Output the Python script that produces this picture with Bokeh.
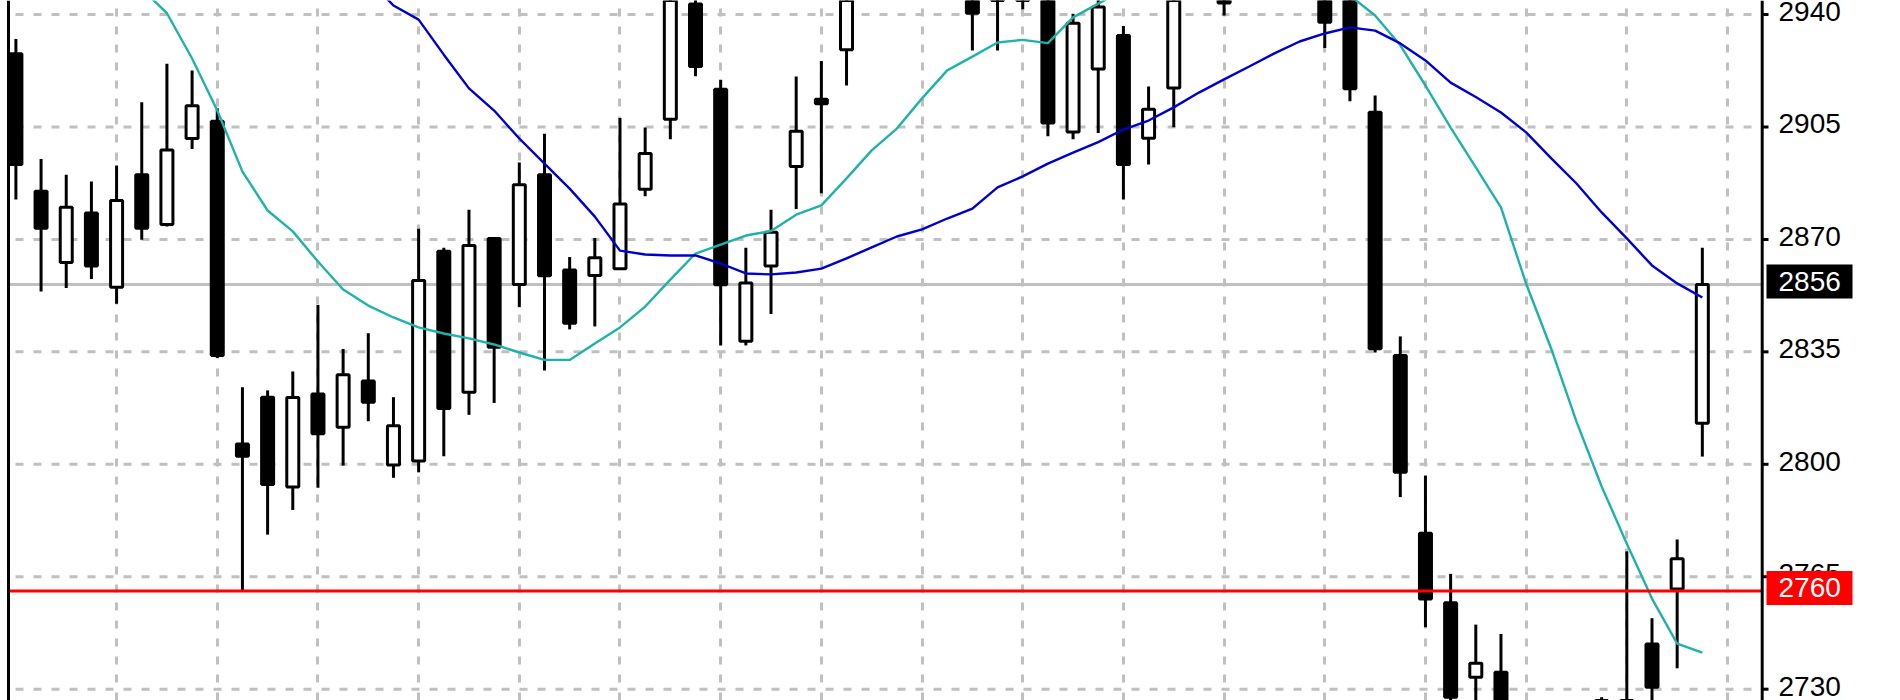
from bokeh.plotting import figure
from bokeh.models import FixedTicker, Span, ColumnDataSource, Range1d, CDSView, BooleanFilter
from bokeh.embed import file_html
from bokeh.resources import INLINE
from bokeh.core.properties import value

# ---- data ----
opens = [2927.8, 2885.0, 2862.8, 2878.2, 2855.1, 2890.1, 2874.6, 2901.4, 2906.8, 2806.3,
         2820.9, 2792.9, 2821.9, 2811.5, 2825.9, 2799.8, 2801.0, 2866.3, 2822.4, 2870.3,
         2856.0, 2890.1, 2860.5, 2858.8, 2860.9, 2885.6, 2907.4, 2943.3, 2916.7, 2838.3,
         2861.7, 2892.7, 2913.6, 2929.0, 2946.0, 2958.0, 2955.0, 2966.0, 2954.0, 2952.0,
         2947.0, 2948.0, 2903.4, 2923.0, 2933.5, 2901.5, 2917.1, 2952.0, 2965.0, 2945.0,
         2958.0, 2965.0, 2952.0, 2946.0, 2909.6, 2833.9, 2778.5, 2756.9, 2733.7, 2735.3,
         2712.0, 2705.0, 2698.0, 2710.0, 2708.0, 2744.1, 2761.2, 2812.8]
highs = [2932.4, 2895.0, 2890.1, 2888.0, 2893.0, 2912.7, 2924.7, 2922.6, 2910.8, 2824.0,
         2823.0, 2828.9, 2849.6, 2835.9, 2840.8, 2820.9, 2873.3, 2867.4, 2879.2, 2870.6,
         2893.9, 2902.9, 2864.5, 2870.4, 2907.8, 2904.8, 2952.0, 2947.5, 2919.7, 2867.4,
         2879.2, 2920.7, 2925.5, 2950.0, 2962.0, 2968.0, 2970.0, 2972.0, 2958.0, 2958.0,
         2960.0, 2952.0, 2940.2, 2948.0, 2936.4, 2917.6, 2958.0, 2975.0, 2972.0, 2962.0,
         2970.0, 2968.0, 2958.0, 2950.0, 2914.8, 2839.8, 2796.5, 2765.9, 2750.1, 2747.2,
         2724.0, 2720.0, 2716.0, 2727.5, 2772.9, 2752.1, 2776.6, 2867.4]
lows = [2882.4, 2853.8, 2854.9, 2857.7, 2850.0, 2869.9, 2874.0, 2898.1, 2833.1, 2760.5,
        2778.1, 2785.8, 2792.7, 2799.6, 2813.4, 2795.8, 2797.5, 2802.5, 2815.4, 2819.1,
        2848.9, 2829.2, 2842.0, 2842.9, 2860.5, 2883.4, 2901.2, 2920.8, 2837.0, 2837.0,
        2846.8, 2879.5, 2884.4, 2917.9, 2945.0, 2950.0, 2951.0, 2950.0, 2928.8, 2928.8,
        2941.6, 2902.1, 2901.2, 2903.1, 2882.4, 2893.3, 2904.9, 2946.0, 2939.7, 2945.0,
        2950.0, 2948.0, 2929.6, 2913.0, 2834.8, 2789.8, 2749.3, 2720.0, 2718.0, 2705.0,
        2695.0, 2688.0, 2685.0, 2700.0, 2702.0, 2725.0, 2736.5, 2802.4]
closes = [2893.3, 2873.5, 2880.0, 2861.7, 2882.1, 2873.5, 2897.8, 2911.6, 2833.9, 2802.5,
          2793.7, 2820.8, 2809.5, 2827.9, 2819.3, 2812.0, 2857.2, 2817.4, 2868.1, 2836.4,
          2887.0, 2858.7, 2843.9, 2864.3, 2881.0, 2896.7, 2948.0, 2923.8, 2855.9, 2856.4,
          2872.2, 2903.7, 2912.2, 2946.0, 2958.0, 2955.0, 2966.0, 2954.0, 2940.4, 2946.0,
          2958.0, 2906.2, 2937.3, 2942.3, 2893.3, 2910.5, 2952.0, 2970.0, 2943.6, 2958.0,
          2965.0, 2952.0, 2937.6, 2916.9, 2836.0, 2797.5, 2758.1, 2727.5, 2738.1, 2712.0,
          2705.0, 2698.0, 2710.0, 2718.0, 2724.0, 2730.6, 2770.6, 2856.0]
ma_fast = [2985.0, 2978.0, 2970.0, 2962.0, 2955.0, 2948.0, 2940.4, 2926.3, 2910.1, 2891.1,
           2879.0, 2872.5, 2863.1, 2854.4, 2849.4, 2845.7, 2842.6, 2840.7, 2839.2, 2837.3,
           2834.8, 2832.5, 2832.5, 2837.6, 2842.6, 2849.1, 2857.5, 2865.6, 2868.4, 2871.2,
           2872.6, 2877.7, 2880.6, 2889.0, 2897.7, 2904.5, 2913.9, 2922.6, 2926.9, 2931.3,
           2932.1, 2931.1, 2939.1, 2943.4, 2947.5, 2950.0, 2953.0, 2955.0, 2956.0, 2957.0,
           2956.0, 2954.0, 2951.0, 2945.9, 2939.7, 2930.4, 2917.9, 2904.8, 2892.4, 2880.0,
           2856.2, 2835.9, 2813.3, 2793.1, 2775.3, 2758.2, 2744.2, 2741.4]
ma_slow = [2974.0, 2975.0, 2976.0, 2977.0, 2978.0, 2979.0, 2979.0, 2979.0, 2978.0, 2976.0,
           2973.0, 2969.0, 2964.0, 2958.0, 2951.0, 2942.8, 2938.4, 2927.5, 2917.0, 2910.1,
           2901.4, 2893.6, 2885.8, 2877.1, 2866.5, 2865.3, 2865.0, 2865.0, 2862.5, 2859.4,
           2859.1, 2859.7, 2860.9, 2864.1, 2867.5, 2870.9, 2873.1, 2876.5, 2879.6, 2886.2,
           2889.6, 2893.6, 2897.0, 2900.3, 2904.2, 2907.0, 2911.1, 2915.7, 2919.8, 2923.8,
           2927.9, 2931.6, 2934.1, 2936.0, 2935.0, 2931.0, 2925.7, 2918.8, 2914.3, 2909.5,
           2903.3, 2895.2, 2887.4, 2878.4, 2870.3, 2861.9, 2856.3, 2851.9]
price_ticks = [2730, 2765, 2800, 2835, 2870, 2905, 2940]
tick_labels = ["2730", "2765", "2800", "2835", "2870", "2905", "2940"]
time_grid_bars = list(range(4, 69, 4))
tag_prices = [2856, 2760.6]          # bid line, horizontal level line
tag_labels = ["2856", "2760"]
tag_colors = ["black", "#FF0000"]

# ---- layout helpers (pixels -> data) ----
W, H = 1900, 700
X0, X1 = -0.6118, 74.873
Y0, Y1 = 2726.48, 2944.36
PPX = W / (X1 - X0)
PPY = H / (Y1 - Y0)

def dx(px):
    return X0 + px / PPX

FRAME_LEFT = dx(8)
AXIS_X = dx(1761.7)
TICK_END = dx(1768)
LABEL_X = dx(1778)
TAG_CX = dx(1809)
FONT = "Liberation Sans"

# ---- derived columns ----
n = len(opens)
idx = list(range(n))
tops = [max(o, c) for o, c in zip(opens, closes)]
bottoms = [min(o, c) for o, c in zip(opens, closes)]
fills = ["white" if c >= o else "black" for o, c in zip(opens, closes)]
src = ColumnDataSource(dict(x=idx, h=highs, l=lows, top=tops, bottom=bottoms, fill=fills))
# bars that lie wholly outside the visible price window are not drawn
in_view = [bool(hi >= Y0 and lo <= Y1) for hi, lo in zip(highs, lows)]
view = CDSView(filter=BooleanFilter(in_view))

p = figure(width=W, height=H, output_backend="svg", toolbar_location=None,
           x_range=Range1d(X0, X1), y_range=Range1d(Y0, Y1),
           x_axis_location=None, y_axis_location=None,
           min_border=0, min_border_left=0, min_border_right=0,
           min_border_top=0, min_border_bottom=0)
p.outline_line_color = None
p.background_fill_color = "white"
p.border_fill_color = "white"

# vertical time grid (full height)
p.xgrid.ticker = FixedTicker(ticks=time_grid_bars)
p.xgrid.grid_line_color = "#C0C0C0"
p.xgrid.grid_line_width = 3
p.xgrid.grid_line_dash = "8 10"
p.ygrid.grid_line_color = None

# horizontal price grid (frame left -> axis)
n_t = len(price_ticks)
p.segment(x0=[FRAME_LEFT] * n_t, x1=[AXIS_X] * n_t, y0=price_ticks, y1=price_ticks,
          line_color="#C0C0C0", line_width=3, line_dash="8 10", line_dash_offset=11)

# bid line (under candles)
p.segment(x0=[FRAME_LEFT], x1=[AXIS_X], y0=[tag_prices[0]], y1=[tag_prices[0]],
          line_color="#C0C0C0", line_width=3)

# candles
p.segment(x0="x", y0="l", x1="x", y1="h", source=src, view=view,
          line_color="black", line_width=3)
p.vbar(x="x", width=0.477, top="top", bottom="bottom", fill_color="fill",
       line_color="black", line_width=3, source=src, view=view)

# moving averages
p.line(idx, ma_fast, line_color="#20B2AA", line_width=2.4)
p.line(idx, ma_slow, line_color="#0000CD", line_width=2.4)

# horizontal level line
p.segment(x0=[FRAME_LEFT], x1=[AXIS_X], y0=[tag_prices[1]], y1=[tag_prices[1]],
          line_color="#FF0000", line_width=3)

# frame left edge and price axis line
p.add_layout(Span(location=FRAME_LEFT, dimension="height", line_color="black", line_width=3))
p.add_layout(Span(location=AXIS_X, dimension="height", line_color="black", line_width=3))

# price axis ticks and labels
p.segment(x0=[AXIS_X] * n_t, x1=[TICK_END] * n_t, y0=price_ticks, y1=price_ticks,
          line_color="black", line_width=3)
p.text(x=[LABEL_X] * n_t, y=price_ticks, text=tick_labels, text_font=value(FONT),
       text_font_size="28px", text_color="black", text_align="left",
       text_baseline="middle", y_offset=-3)

# price tags
n_g = len(tag_prices)
p.rect(x=[TAG_CX] * n_g, y=[v + 3 / PPY for v in tag_prices], width=86, height=34,
       width_units="screen", height_units="screen", fill_color=tag_colors, line_color=None)
p.text(x=[LABEL_X] * n_g, y=tag_prices, text=tag_labels, text_font=value(FONT),
       text_font_size="28px", text_color="white", text_align="left",
       text_baseline="middle", y_offset=-3)

open("out.html", "w").write(file_html(p, INLINE))
